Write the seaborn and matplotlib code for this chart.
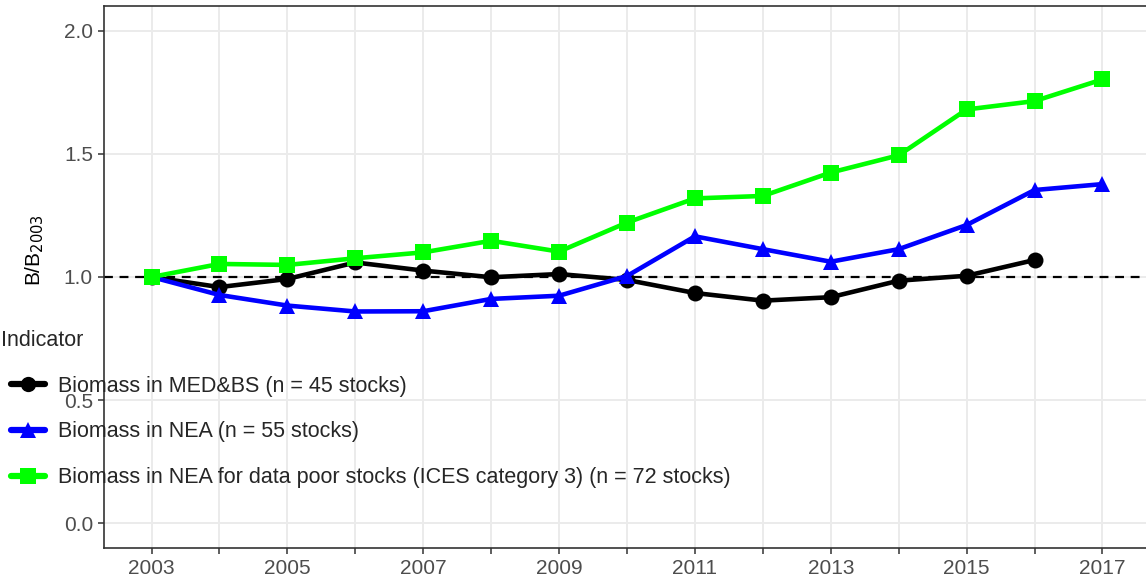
import numpy as np
import pandas as pd
import seaborn as sns
import matplotlib.pyplot as plt

years = list(range(2003, 2018))
med_bs = [1.0, 0.959, 0.992, 1.059, 1.026, 0.999, 1.012, 0.988, 0.935, 0.904, 0.918, 0.985, 1.005, 1.069]
nea = [1.0, 0.927, 0.884, 0.860, 0.861, 0.911, 0.924, 1.004, 1.165, 1.113, 1.062, 1.113, 1.211, 1.353, 1.377]
nea_poor = [1.0, 1.053, 1.049, 1.076, 1.100, 1.147, 1.103, 1.221, 1.319, 1.329, 1.424, 1.494, 1.680, 1.714, 1.802]

labels = ['Biomass in MED&BS (n = 45 stocks)',
          'Biomass in NEA (n = 55 stocks)',
          'Biomass in NEA for data poor stocks (ICES category 3) (n = 72 stocks)']
colors = ['black', '#0000FF', '#00FF00']
markers = ['o', '^', 's']

frames = []
for lab, vals in zip(labels, [med_bs, nea, nea_poor]):
    frames.append(pd.DataFrame({'year': years[:len(vals)], 'value': vals, 'Indicator': lab}))
df = pd.concat(frames, ignore_index=True)

sns.set_theme(style='whitegrid')
plt.rcParams['font.family'] = ['Liberation Sans', 'DejaVu Sans']

fig = plt.figure(figsize=(11.46, 5.85), dpi=100)
ax = fig.add_axes([104 / 1146, 37 / 585, 1046 / 1146, 542 / 585])

ax.axhline(1.0, color='black', ls=(0, (4, 3)), lw=1.6, zorder=1)
sns.lineplot(data=df, x='year', y='value', hue='Indicator', style='Indicator',
             palette=dict(zip(labels, colors)), markers=dict(zip(labels, markers)),
             dashes=False, lw=3.3, markersize=11.5, markeredgewidth=0, ax=ax, zorder=3)

ax.set_xlim(2002.3, 2017.7)
ax.set_ylim(-0.1, 2.1)
ax.set_xticks(years)
ax.set_xticklabels([str(y) if y % 2 == 1 else '' for y in years])
ax.set_yticks([0.0, 0.5, 1.0, 1.5, 2.0])
ax.set_yticklabels(['0.0', '0.5', '1.0', '1.5', '2.0'])
ax.grid(True, color='#EBEBEB', lw=1.4)
ax.tick_params(axis='both', length=4, width=1.1, color='#333333', labelsize=15, labelcolor='#4D4D4D', pad=4)
ax.tick_params(axis='x', bottom=True)
ax.tick_params(axis='y', left=True)
for s in ax.spines.values():
    s.set_color('#333333')
    s.set_linewidth(1.2)
ax.set_xlabel('')
ax.set_ylabel('B/B$_{2003}$', fontsize=15, color='black')
ax.yaxis.set_label_coords(-0.055, 0.55)

# legend sits over the lower left of the panel, as in the source figure
leg = ax.legend(loc='upper left', bbox_to_anchor=(2 / 1146, 1 - 367 / 585), bbox_transform=fig.transFigure,
                frameon=False, fontsize=15.5, handlelength=1.6, labelspacing=1.15, handletextpad=0.6,
                borderaxespad=0)
for h in leg.legend_handles:
    h.set_linewidth(4.5)
    h.set_markersize(11)
fig.text(1 / 1146, 1 - 340 / 585, 'Indicator', fontsize=15.5, va='center', ha='left')

fig.savefig('out.png', dpi=100)
